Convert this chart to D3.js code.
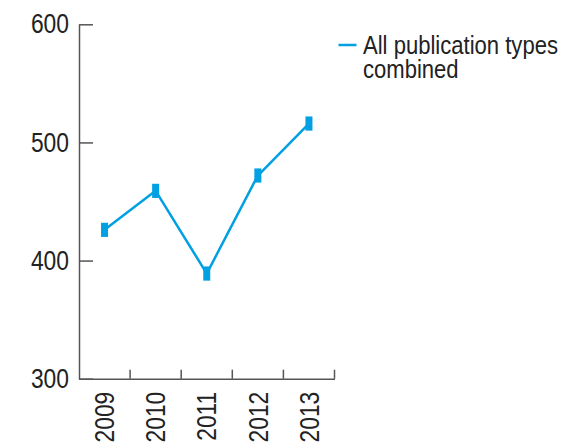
<!DOCTYPE html>
<html>
<head>
<meta charset="utf-8">
<script src="https://cdn.jsdelivr.net/npm/d3@7/dist/d3.min.js"></script>
<style>
  html, body { margin: 0; padding: 0; background: #fff; }
  svg { display: block; }
  text { font-family: "Liberation Sans", Arial, sans-serif; fill: #222; }
</style>
</head>
<body>
<svg id="chart" width="564" height="444"></svg>
<script>
// Publications per year, with interval bounds
const years = ["2009", "2010", "2011", "2012", "2013"];
const counts = [426, 459, 389, 472, 516];
const lower = [420, 453, 383, 466, 510];
const upper = [432, 465, 395, 478, 522];
const yTicks = [300, 400, 500, 600];
const seriesLabel = ["All publication types", "combined"];

const blue = "#00a0e3";
const axisColor = "#555";

const svg = d3.select("#chart");

// Narrow the glyphs of a text selection horizontally (condensed look)
function condense(sel, factor) {
  sel.each(function () {
    const w = this.getComputedTextLength();
    d3.select(this)
      .attr("textLength", w * factor)
      .attr("lengthAdjust", "spacingAndGlyphs");
  });
}

const x = d3.scaleBand().domain(years).range([79, 334.5]).padding(0);
const y = d3.scaleLinear().domain([300, 600]).range([378.7, 24.3]);

// Y axis: ticks point inward, labels on the left
const yAxis = svg.append("g")
  .attr("transform", "translate(79,0)")
  .call(d3.axisLeft(y).tickValues(yTicks).tickSizeInner(-14).tickSizeOuter(0).tickPadding(10));
yAxis.select(".domain").attr("stroke", axisColor).attr("stroke-width", 1.5);
yAxis.selectAll(".tick line").attr("stroke", axisColor).attr("stroke-width", 1.5);
yAxis.selectAll(".tick text")
  .attr("font-size", 27)
  .attr("fill", "#222")
  .style("font-family", '"Liberation Sans", Arial, sans-serif')
  .call(condense, 0.845);

// X axis: baseline plus small upward ticks at band boundaries
const xAxis = svg.append("g")
  .attr("transform", `translate(0,${y(300)})`)
  .call(d3.axisBottom(x).tickSize(0).tickPadding(0));
xAxis.select(".domain").attr("stroke", axisColor).attr("stroke-width", 1.5);
xAxis.selectAll(".tick text")
  .attr("font-size", 27)
  .attr("fill", "#222")
  .style("font-family", '"Liberation Sans", Arial, sans-serif')
  .attr("text-anchor", "end")
  .attr("transform", "rotate(-90)")
  .attr("x", -13)
  .attr("y", 0)
  .attr("dy", "0.36em")
  .call(condense, 0.845);

svg.append("g").selectAll("line")
  .data(years)
  .join("line")
  .attr("x1", d => x(d) + x.bandwidth())
  .attr("x2", d => x(d) + x.bandwidth())
  .attr("y1", y(300))
  .attr("y2", y(300) - 9)
  .attr("stroke", axisColor)
  .attr("stroke-width", 1.5);

// Series line
const pts = years.map((d, i) => ({ year: d, v: counts[i], lo: lower[i], hi: upper[i] }));
const line = d3.line().x(d => x(d.year) + x.bandwidth() / 2).y(d => y(d.v));
svg.append("path")
  .datum(pts)
  .attr("d", line)
  .attr("fill", "none")
  .attr("stroke", blue)
  .attr("stroke-width", 2.5)
  .attr("stroke-linejoin", "round");

// Interval markers
svg.append("g").selectAll("rect")
  .data(pts)
  .join("rect")
  .attr("x", d => x(d.year) + x.bandwidth() / 2 - 3.5)
  .attr("width", 7)
  .attr("y", d => y(d.hi))
  .attr("height", d => y(d.lo) - y(d.hi))
  .attr("fill", blue);

// Legend
const legend = svg.append("g");
legend.append("line")
  .attr("x1", 338.5).attr("x2", 356.5)
  .attr("y1", 45).attr("y2", 45)
  .attr("stroke", blue).attr("stroke-width", 2.5);
legend.selectAll("text")
  .data(seriesLabel)
  .join("text")
  .attr("x", 363)
  .attr("y", (d, i) => 54 + i * 24)
  .attr("font-size", 25.5)
  .text(d => d)
  .call(condense, 0.865);
</script>
</body>
</html>
